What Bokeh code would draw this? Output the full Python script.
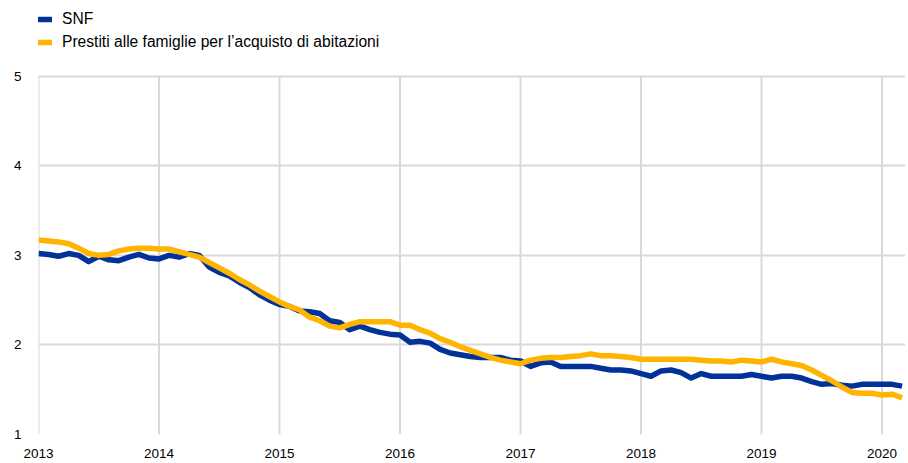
import numpy as np
from bokeh.plotting import figure
from bokeh.models import ColumnDataSource, Legend, LegendItem, FixedTicker
from bokeh.embed import file_html
from bokeh.resources import INLINE

start_year = 2013
year_ticks = [2013, 2014, 2015, 2016, 2017, 2018, 2019, 2020]
year_labels = ["2013", "2014", "2015", "2016", "2017", "2018", "2019", "2020"]
y_ticks = [1, 2, 3, 4, 5]

series_names = ["SNF", "Prestiti alle famiglie per l\u2019acquisto di abitazioni"]

snf = [
    3.02, 3.01, 2.99, 3.02, 3.00, 2.93, 2.99, 2.95, 2.94, 2.98, 3.01, 2.97,
    2.96, 3.00, 2.98, 3.02, 3.00, 2.87, 2.81, 2.77, 2.70, 2.64, 2.56, 2.50,
    2.45, 2.43, 2.38, 2.37, 2.35, 2.27, 2.25, 2.17, 2.21, 2.17, 2.14, 2.12,
    2.11, 2.03, 2.04, 2.02, 1.95, 1.91, 1.89, 1.87, 1.86, 1.86, 1.86, 1.83,
    1.82, 1.76, 1.80, 1.81, 1.76, 1.76, 1.76, 1.76, 1.74, 1.72, 1.72, 1.71,
    1.68, 1.65, 1.71, 1.72, 1.69, 1.63, 1.68, 1.65, 1.65, 1.65, 1.65, 1.67,
    1.65, 1.63, 1.65, 1.65, 1.63, 1.59, 1.56, 1.57, 1.55, 1.54, 1.56, 1.56,
    1.56, 1.56, 1.54,
]

famiglie = [
    3.17, 3.16, 3.15, 3.13, 3.08, 3.02, 3.00, 3.01, 3.05, 3.07, 3.08, 3.08,
    3.07, 3.07, 3.04, 3.01, 2.98, 2.92, 2.86, 2.80, 2.73, 2.67, 2.60, 2.54,
    2.48, 2.43, 2.39, 2.31, 2.27, 2.21, 2.19, 2.23, 2.26, 2.26, 2.26, 2.26,
    2.22, 2.22, 2.17, 2.13, 2.07, 2.03, 1.98, 1.94, 1.90, 1.86, 1.83, 1.81,
    1.79, 1.83, 1.85, 1.86, 1.86, 1.87, 1.88, 1.90, 1.88, 1.88, 1.87, 1.86,
    1.84, 1.84, 1.84, 1.84, 1.84, 1.84, 1.83, 1.82, 1.82, 1.81, 1.83, 1.82,
    1.81, 1.84, 1.81, 1.79, 1.77, 1.72, 1.66, 1.60, 1.53, 1.47, 1.46, 1.46,
    1.44, 1.45, 1.41,
]

months = np.arange(len(snf))
x = start_year + months / 12.0

src = ColumnDataSource(data=dict(x=x, snf=snf, fam=famiglie))
grid_src = ColumnDataSource(data=dict(
    x=year_ticks,
    y0=[y_ticks[0]] * len(year_ticks),
    y1=[y_ticks[-1]] * len(year_ticks),
))

BLUE = "#003299"
YELLOW = "#FFB400"
GRID = "#D9D9D9"
FONT = "Liberation Sans"

p = figure(width=906, height=460, output_backend="svg", toolbar_location=None,
           x_range=(2013, 2020.195), y_range=(1, 5.80),
           min_border_left=38, min_border_right=1, min_border_top=4,
           min_border_bottom=25)
p.outline_line_color = None
p.background_fill_color = "white"
p.border_fill_color = "white"

p.segment(x0="x", y0="y0", x1="x", y1="y1", source=grid_src,
          line_color=GRID, line_width=2)

r1 = p.line("x", "snf", source=src, line_color=BLUE, line_width=5.5, line_join="round")
r2 = p.line("x", "fam", source=src, line_color=YELLOW, line_width=5.5, line_join="round")

p.xaxis.ticker = FixedTicker(ticks=year_ticks)
p.xaxis.major_label_overrides = {t: l for t, l in zip(year_ticks, year_labels)}
p.yaxis.ticker = FixedTicker(ticks=y_ticks)
for ax in (p.xaxis[0], p.yaxis[0]):
    ax.axis_line_color = None
    ax.major_tick_line_color = None
    ax.minor_tick_line_color = None
    ax.major_tick_out = 0
    ax.major_tick_in = 0
    ax.minor_tick_out = 0
    ax.major_label_text_font = FONT
    ax.major_label_text_font_size = "13.5px"
    ax.major_label_text_color = "black"
p.xaxis.major_label_standoff = 14
p.yaxis.major_label_standoff = 17

p.xgrid.visible = False
p.ygrid.ticker = FixedTicker(ticks=y_ticks)
p.ygrid.grid_line_color = GRID
p.ygrid.grid_line_width = 2

legend = Legend(items=[LegendItem(label=series_names[0], renderers=[r1]),
                       LegendItem(label=series_names[1], renderers=[r2])],
                location=(-1, 383), orientation="vertical",
                label_text_font=FONT, label_text_font_size="15.6px",
                label_text_color="black",
                glyph_width=15, glyph_height=18, label_height=18,
                spacing=5, padding=0, margin=0, label_standoff=10,
                border_line_color=None, background_fill_alpha=0)
p.add_layout(legend)

open("out.html", "w").write(file_html(p, INLINE))
